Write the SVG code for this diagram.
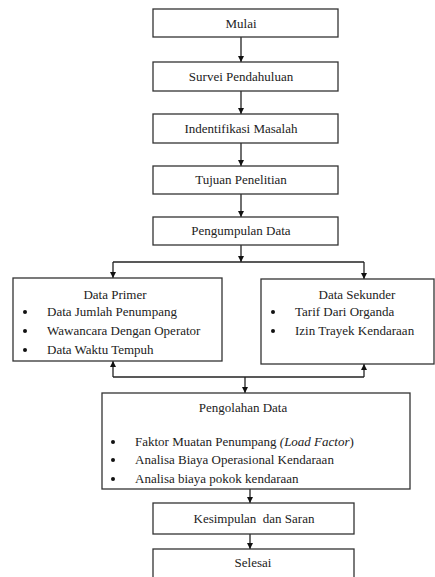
<svg xmlns="http://www.w3.org/2000/svg" width="435" height="577" viewBox="0 0 435 577">
<style>
.box{fill:#fff;stroke:#333;stroke-width:1.3}
.t{font-family:'Liberation Serif','Times New Roman',Times,'DejaVu Serif',serif;font-size:13px;fill:#222}
.c{text-anchor:middle}
.ln{fill:none;stroke:#222;stroke-width:1.3}
.b{fill:#111}
</style>
<defs>
<marker id="ah" viewBox="0 0 10 10" refX="10" refY="5" markerWidth="6" markerHeight="6" markerUnits="userSpaceOnUse" orient="auto">
<path d="M0,0 L10,5 L0,10 z" fill="#111"/>
</marker>
</defs>
<rect width="435" height="577" fill="#fff"/>
<g id="connectors">
<path class="ln" d="M241 37 V62" marker-end="url(#ah)"/>
<path class="ln" d="M241 91 V114" marker-end="url(#ah)"/>
<path class="ln" d="M241 143 V166" marker-end="url(#ah)"/>
<path class="ln" d="M241 194 V217" marker-end="url(#ah)"/>
<path class="ln" d="M241 245 V262" marker-end="url(#ah)"/>
<path class="ln" d="M113 262 H364"/>
<path class="ln" d="M113 262 V278" marker-end="url(#ah)"/>
<path class="ln" d="M364 262 V279" marker-end="url(#ah)"/>
<path class="ln" d="M113 377 H364"/>
<path class="ln" d="M113 377 V361" marker-end="url(#ah)"/>
<path class="ln" d="M364 377 V364" marker-end="url(#ah)"/>
<path class="ln" d="M245 377 V393" marker-end="url(#ah)"/>
<path class="ln" d="M250 489 V503" marker-end="url(#ah)"/>
<path class="ln" d="M250 534 V549" marker-end="url(#ah)"/>
</g>
<g id="mulai"><rect class="box" x="153" y="9" width="185" height="28"/><text class="t c" x="241" y="28">Mulai</text></g>
<g id="survei"><rect class="box" x="153" y="62" width="185" height="29"/><text class="t c" x="241" y="81">Survei Pendahuluan</text></g>
<g id="identifikasi"><rect class="box" x="153" y="114" width="185" height="29"/><text class="t c" x="241" y="133">Indentifikasi Masalah</text></g>
<g id="tujuan"><rect class="box" x="153" y="166" width="185" height="28"/><text class="t c" x="241" y="184">Tujuan Penelitian</text></g>
<g id="pengumpulan"><rect class="box" x="153" y="217" width="185" height="28"/><text class="t c" x="241" y="235">Pengumpulan Data</text></g>
<g id="primer"><rect class="box" x="13" y="278" width="209" height="83"/>
<text class="t c" x="115" y="299">Data Primer</text>
<circle class="b" cx="25" cy="312" r="2"/><text class="t" x="47" y="316">Data Jumlah Penumpang</text>
<circle class="b" cx="25" cy="331" r="2"/><text class="t" x="47" y="335">Wawancara Dengan Operator</text>
<circle class="b" cx="25" cy="350" r="2"/><text class="t" x="47" y="354">Data Waktu Tempuh</text>
</g>
<g id="sekunder"><rect class="box" x="261" y="279" width="173" height="85"/>
<text class="t c" x="357" y="299">Data Sekunder</text>
<circle class="b" cx="273" cy="312" r="2"/><text class="t" x="295" y="316">Tarif Dari Organda</text>
<circle class="b" cx="273" cy="331" r="2"/><text class="t" x="295" y="335">Izin Trayek Kendaraan</text>
</g>
<g id="pengolahan"><rect class="box" x="102" y="393" width="308" height="96"/>
<text class="t c" x="243" y="412">Pengolahan Data</text>
<circle class="b" cx="113" cy="442" r="2"/><text class="t" x="135" y="446">Faktor Muatan Penumpang <tspan font-style="italic">(Load Factor</tspan>)</text>
<circle class="b" cx="113" cy="460" r="2"/><text class="t" x="135" y="464">Analisa Biaya Operasional Kendaraan</text>
<circle class="b" cx="113" cy="479" r="2"/><text class="t" x="135" y="483">Analisa biaya pokok kendaraan</text>
</g>
<g id="kesimpulan"><rect class="box" x="153" y="503" width="201" height="31"/><text class="t c" x="254" y="523" xml:space="preserve">Kesimpulan  dan Saran</text></g>
<g id="selesai"><rect class="box" x="153" y="549" width="201" height="40"/><text class="t c" x="253" y="567">Selesai</text></g>
</svg>
